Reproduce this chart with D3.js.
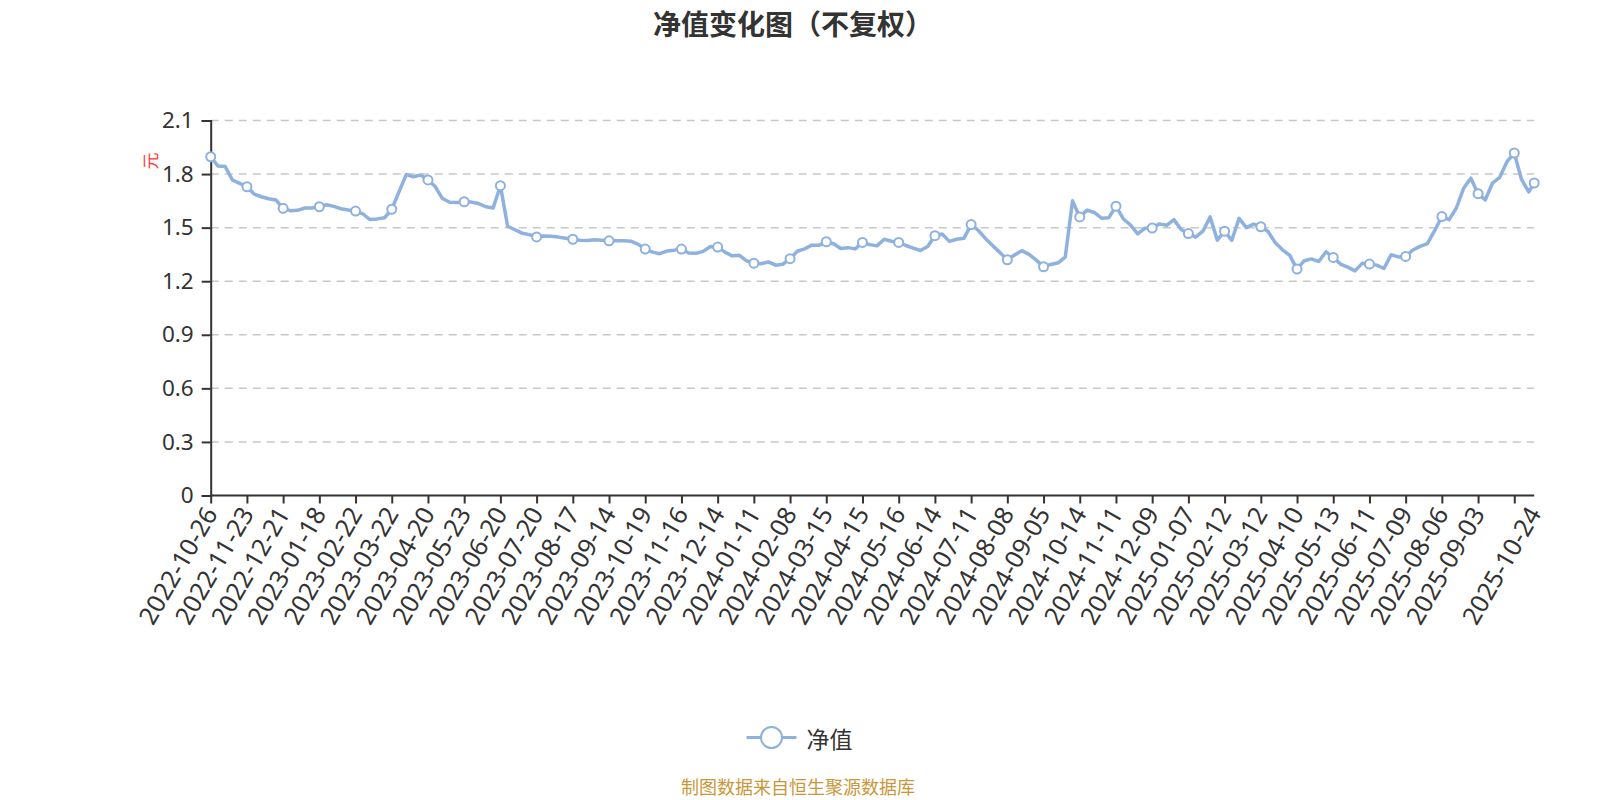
<!DOCTYPE html>
<html>
<head>
<meta charset="utf-8">
<script src="https://cdn.jsdelivr.net/npm/d3@7/dist/d3.min.js"></script>
<style>
  body { margin: 0; background: #fff; }
  text { font-family: "Noto Sans CJK SC", "Noto Sans", sans-serif; }
</style>
</head>
<body>
<div id="chart"></div>
<script>
// net value, read every 4 trading days from day 0 (2022-10-26)
var navStep = 4;
var navValues = [
  1.897, 1.845, 1.842, 1.767, 1.748,
  1.729, 1.688, 1.673, 1.662, 1.655,
  1.608, 1.595, 1.597, 1.610, 1.610,
  1.617, 1.628, 1.619, 1.606, 1.599,
  1.593, 1.577, 1.545, 1.549, 1.555,
  1.603, 1.700, 1.797, 1.785, 1.795,
  1.767, 1.730, 1.663, 1.642, 1.641,
  1.645, 1.643, 1.635, 1.617, 1.610,
  1.735, 1.508, 1.488, 1.469, 1.461,
  1.448, 1.453, 1.452, 1.447, 1.441,
  1.435, 1.429, 1.428, 1.432, 1.430,
  1.426, 1.426, 1.426, 1.424, 1.408,
  1.380, 1.363, 1.354, 1.369, 1.374,
  1.380, 1.358, 1.356, 1.367, 1.394,
  1.391, 1.363, 1.342, 1.345, 1.314,
  1.301, 1.298, 1.308, 1.290, 1.295,
  1.326, 1.368, 1.381, 1.402, 1.401,
  1.421, 1.410, 1.383, 1.388, 1.381,
  1.417, 1.405, 1.398, 1.435, 1.424,
  1.417, 1.400, 1.385, 1.372, 1.394,
  1.455, 1.464, 1.423, 1.435, 1.440,
  1.517, 1.484, 1.438, 1.398, 1.360,
  1.320, 1.347, 1.371, 1.350, 1.318,
  1.281, 1.294, 1.303, 1.335, 1.650,
  1.560, 1.598, 1.585, 1.553, 1.555,
  1.620, 1.550, 1.515, 1.465, 1.497,
  1.498, 1.521, 1.513, 1.545, 1.490,
  1.467, 1.447, 1.480, 1.560, 1.430,
  1.480, 1.429, 1.552, 1.500, 1.520,
  1.505, 1.478, 1.415, 1.376, 1.345,
  1.268, 1.315, 1.325, 1.310, 1.365,
  1.333, 1.296, 1.279, 1.258, 1.300,
  1.296, 1.290, 1.271, 1.348, 1.336,
  1.339, 1.375, 1.395, 1.410, 1.483,
  1.562, 1.545, 1.610, 1.720, 1.777,
  1.690, 1.656, 1.750, 1.782, 1.870,
  1.918, 1.770, 1.700
];
var lastDay = 731, lastValue = 1.750;

// x labels: trading day index -> date
var labelDays = [0, 20, 40, 60, 80, 100, 120, 140, 160, 180, 200, 220, 240, 260, 280, 300, 320, 340,
  360, 380, 400, 420, 440, 460, 480, 500, 520, 540, 560, 580, 600, 620, 640, 660, 680, 700, 731];
var labelDates = ["2022-10-26", "2022-11-23", "2022-12-21", "2023-01-18", "2023-02-22", "2023-03-22",
  "2023-04-20", "2023-05-23", "2023-06-20", "2023-07-20", "2023-08-17", "2023-09-14", "2023-10-19",
  "2023-11-16", "2023-12-14", "2024-01-11", "2024-02-08", "2024-03-15", "2024-04-15", "2024-05-16",
  "2024-06-14", "2024-07-11", "2024-08-08", "2024-09-05", "2024-10-14", "2024-11-11", "2024-12-09",
  "2025-01-07", "2025-02-12", "2025-03-12", "2025-04-10", "2025-05-13", "2025-06-11", "2025-07-09",
  "2025-08-06", "2025-09-03", "2025-10-24"];
var tickDays = [0, 20, 40, 60, 80, 100, 120, 140, 160, 180, 200, 220, 240, 260, 280, 300, 320, 340,
  360, 380, 400, 420, 440, 460, 480, 500, 520, 540, 560, 580, 600, 620, 640, 660, 680, 700, 720];
var yTicks = [0, 0.3, 0.6, 0.9, 1.2, 1.5, 1.8, 2.1];

var lineColor = '#8eb1df';
var data = navValues.map(function(v, i){ return {day: i * navStep, value: v}; });
data.push({day: lastDay, value: lastValue});

var W = 1600, H = 800;
var m = {left: 210.7, right: 1534.2, top: 120.5, bottom: 495.5};

var svg = d3.select('#chart').append('svg').attr('width', W).attr('height', H);

var x = d3.scaleLinear().domain([0, lastDay]).range([m.left, m.right]);
var y = d3.scaleLinear().domain([0, 2.1]).range([m.bottom, m.top]);

// title
svg.append('text').attr('x', 793).attr('y', 23).attr('text-anchor', 'middle')
  .attr('dominant-baseline', 'central').attr('font-size', 28).attr('font-weight', 'bold')
  .attr('fill', '#333').text('净值变化图（不复权）');

// grid
svg.append('g').selectAll('line').data(yTicks.filter(function(d){ return d > 0; })).enter()
  .append('line')
  .attr('x1', m.left).attr('x2', m.right)
  .attr('y1', function(d){ return y(d); }).attr('y2', function(d){ return y(d); })
  .attr('stroke', '#c8c8c8').attr('stroke-width', 1.5).attr('stroke-dasharray', '8,6');

// y axis
var yAxis = svg.append('g').attr('transform', 'translate(' + m.left + ',0)')
  .call(d3.axisLeft(y).tickValues(yTicks).tickSize(9).tickPadding(8)
    .tickFormat(function(d){ return d === 0 ? '0' : d3.format('.1f')(d); }));
yAxis.select('.domain').attr('stroke', '#333').attr('stroke-width', 2);
yAxis.selectAll('.tick line').attr('stroke', '#333').attr('stroke-width', 2);
yAxis.selectAll('.tick text').attr('font-size', 22.5).attr('fill', '#333')
  .style('font-family', '"Noto Sans", sans-serif');

// unit
svg.append('text').attr('transform', 'translate(149,161) rotate(-90)')
  .attr('text-anchor', 'middle').attr('dominant-baseline', 'central')
  .attr('font-size', 17).attr('fill', '#ff3b3b').text('元');

// x axis
var xAxis = svg.append('g').attr('transform', 'translate(0,' + m.bottom + ')')
  .call(d3.axisBottom(x).tickValues(tickDays).tickSize(8).tickFormat(''));
xAxis.select('.domain').attr('stroke', '#333').attr('stroke-width', 2)
  .attr('d', 'M' + m.left + ',0H' + m.right);
xAxis.selectAll('.tick line').attr('stroke', '#333').attr('stroke-width', 2);

svg.append('g').selectAll('text').data(labelDays).enter().append('text')
  .attr('transform', function(d){ return 'translate(' + (x(d) - 1) + ',' + (m.bottom + 13) + ') rotate(-60)'; })
  .attr('text-anchor', 'end').attr('dominant-baseline', 'central')
  .attr('font-size', 25).attr('fill', '#333')
  .style('font-family', '"Noto Sans", sans-serif')
  .text(function(d, i){ return labelDates[i]; });

// line
var line = d3.line().x(function(d){ return x(d.day); }).y(function(d){ return y(d.value); });
svg.append('path').datum(data).attr('d', line).attr('fill', 'none')
  .attr('stroke', lineColor).attr('stroke-width', 3.5)
  .attr('stroke-linejoin', 'round').attr('stroke-linecap', 'round');

// symbols
svg.append('g').selectAll('circle')
  .data(data.filter(function(d){ return d.day % 20 === 0 || d.day === lastDay; })).enter()
  .append('circle')
  .attr('cx', function(d){ return x(d.day); }).attr('cy', function(d){ return y(d.value); })
  .attr('r', 4.5).attr('fill', '#fff').attr('stroke', lineColor).attr('stroke-width', 2);

// legend
var lg = svg.append('g').attr('transform', 'translate(771.5,737.5)');
lg.append('line').attr('x1', -25).attr('x2', 25).attr('stroke', lineColor).attr('stroke-width', 3);
lg.append('circle').attr('r', 10.5).attr('fill', '#fff').attr('stroke', lineColor).attr('stroke-width', 2);
lg.append('text').attr('x', 35).attr('dominant-baseline', 'central')
  .attr('font-size', 23).attr('fill', '#333').text('净值');

// source
svg.append('text').attr('x', 798).attr('y', 786).attr('text-anchor', 'middle')
  .attr('dominant-baseline', 'central').attr('font-size', 18).attr('fill', '#c9973a')
  .text('制图数据来自恒生聚源数据库');
</script>
</body>
</html>
